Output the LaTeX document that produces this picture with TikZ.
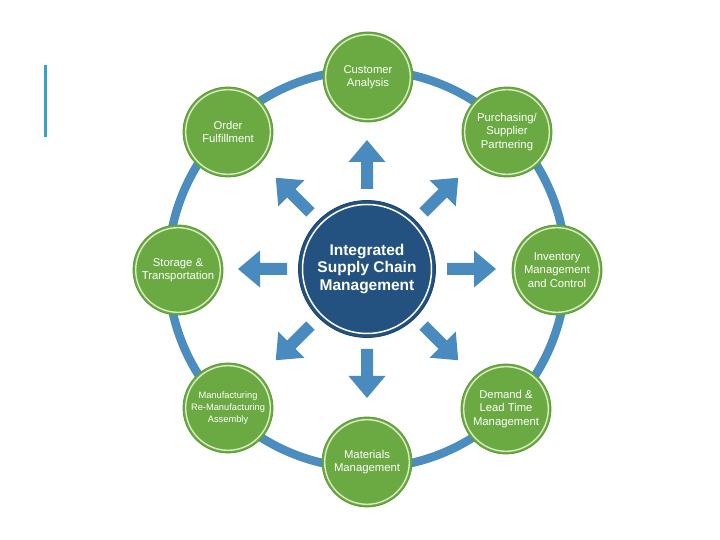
\documentclass[tikz,border=0pt]{standalone}
\usepackage{fontspec}
\setmainfont{Liberation Sans}
\definecolor{ringblue}{HTML}{4C8DC0}
\definecolor{arrowblue}{HTML}{4A8BBF}
\definecolor{barblue}{HTML}{3A9FCB}
\definecolor{leaf}{HTML}{6BAA42}
\definecolor{leafdark}{HTML}{5C9A3A}
\definecolor{leaflight}{HTML}{D8ECC2}
\definecolor{navy}{HTML}{245280}
\definecolor{navydark}{HTML}{1C4368}
\tikzset{
  sat/.style={circle, fill=leaf, draw=leafdark, line width=0.8pt, minimum size=90pt,
    inner sep=0pt, align=center, text=white, font=\fontsize{11.3}{13.4}\selectfont,
    path picture={\draw[leaflight, line width=1.4pt] (path picture bounding box.center) circle (42.3pt);}},
  hub/.style={circle, fill=navy, draw=navydark, line width=0.8pt, minimum size=137pt,
    inner sep=0pt, align=center, text=white, font=\fontsize{15.5}{17.5}\selectfont\bfseries,
    path picture={\draw[white, line width=1.5pt] (path picture bounding box.center) circle (64.5pt);}},
  blockarrow/.style={fill=arrowblue},
}
\begin{document}
\begin{tikzpicture}[x=1pt,y=1pt]
\useasboundingbox (0,0) rectangle (720,540);
\coordinate (c) at (367,271);
% side bar
\coordinate (barTop) at (45,475);
\coordinate (barBot) at (45,403);
\draw[barblue, line width=3pt] (barTop) -- (barBot);
% ring
\draw[ringblue, line width=8.5pt] (c) circle (199);
% arrows
\foreach \a in {0,45,...,315}{
  \fill[blockarrow, shift={(c)}, rotate=\a]
    (80,-6) -- (107,-6) -- (107,-18.5) -- (129,0) -- (107,18.5) -- (107,6) -- (80,6) -- cycle;
}
% hub
\node[hub] (hub) at (c) {Integrated\\Supply Chain\\Management};
% satellites
\node[sat] (cust) at (368,463) {Customer\\Analysis};
\node[sat] (purch) at (507,408) {Purchasing/\\Supplier\\Partnering};
\node[sat] (inv) at (557,270) {Inventory\\Management\\and Control};
\node[sat] (dem) at (506,131) {Demand \&\\Lead Time\\Management};
\node[sat] (mat) at (367,78) {Materials\\Management};
\node[sat, font=\fontsize{9.3}{11.8}\selectfont] (manu) at (228,132) {Manufacturing\\Re-Manufacturing\\Assembly};
\node[sat] (stor) at (178,270) {Storage \&\\Transportation};
\node[sat] (ord) at (228,408) {Order\\Fulfillment};
\end{tikzpicture}
\end{document}
